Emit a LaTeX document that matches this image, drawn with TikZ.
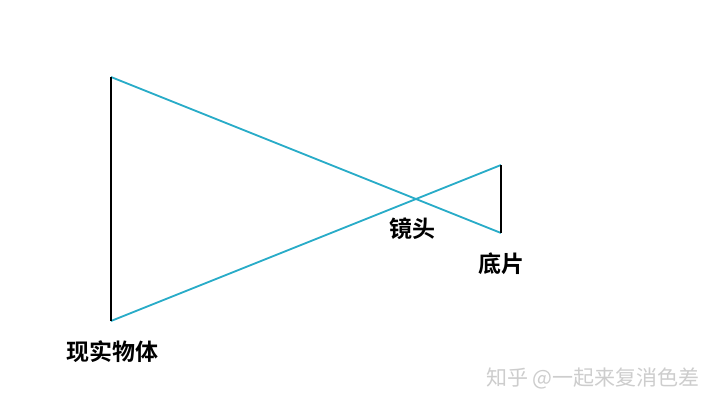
\documentclass[tikz,border=0pt]{standalone}
\usepackage{fontspec}
\newfontfamily\cjk{Noto Sans CJK SC}
\newfontfamily\cjkb{Noto Sans CJK SC Bold}
\definecolor{ray}{RGB}{40,172,200}
\definecolor{wm}{RGB}{205,205,205}
\tikzset{
  obj/.style={draw=black,line width=2pt},
  raystyle/.style={draw=ray,line width=1.8pt},
  lbl/.style={font=\cjkb\fontsize{23}{23}\selectfont,inner sep=0pt},
  wmark/.style={font=\cjk\fontsize{21}{21}\selectfont,text=wm,inner sep=0pt}
}
\begin{document}
\begin{tikzpicture}[x=1pt,y=-1pt]
\useasboundingbox[fill=white] (0,0) rectangle (720,405);
\coordinate (ot) at (111,77);
\coordinate (ob) at (111,321);
\coordinate (ft) at (501,165);
\coordinate (fb) at (501,233);
\draw[raystyle] (ot) -- (fb);
\draw[raystyle] (ob) -- (ft);
\draw[obj] (ot) -- (ob);
\draw[obj] (ft) -- (fb);
\node[lbl] (objlbl) at (112,352) {现实物体};
\node[lbl] (lens) at (412,229) {镜头};
\node[lbl] (film) at (501,264) {底片};
\node[wmark] (wmk) at (593,378) {知乎 @一起来复消色差};
\end{tikzpicture}
\end{document}
